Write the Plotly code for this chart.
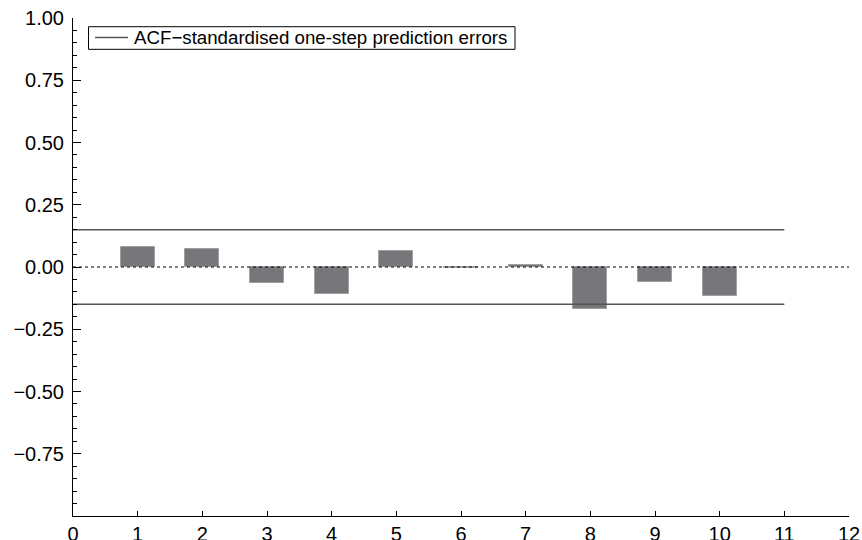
import plotly.graph_objects as go

lags = [1, 2, 3, 4, 5, 6, 7, 8, 9, 10]
acf_values = [0.081, 0.071, -0.063, -0.110, 0.063, -0.003, 0.007, -0.167, -0.061, -0.117]
bound = 0.15
bound_x = [0, 11]
zero_x = [0, 12]
legend_name = "ACF\u2212standardised one-step prediction errors"
ytick_vals = [-0.75, -0.50, -0.25, 0.00, 0.25, 0.50, 0.75, 1.00]
ytick_text = ["\u22120.75", "\u22120.50", "\u22120.25", "0.00", "0.25", "0.50", "0.75", "1.00"]
xtick_vals = list(range(0, 13))

fig = go.Figure()
fig.add_trace(go.Bar(
    x=lags, y=acf_values, width=0.53, showlegend=False,
    marker=dict(color="#77777b", line=dict(color="#a0a0a0", width=1)),
))
fig.add_trace(go.Scatter(
    x=zero_x, y=[0, 0], mode="lines", showlegend=False,
    line=dict(color="black", width=1, dash="dot"),
))
fig.add_trace(go.Scatter(
    x=bound_x + [None] + bound_x,
    y=[bound, bound, None, -bound, -bound],
    mode="lines", name=legend_name, showlegend=False,
    line=dict(color="#555555", width=1.5),
))

# manual legend box
fig.add_shape(type="rect", xref="paper", yref="paper",
              x0=0.020, x1=0.5696, y0=0.9371, y1=0.9825,
              line=dict(color="black", width=1), fillcolor="white", layer="above")
fig.add_shape(type="line", xref="paper", yref="paper",
              x0=0.0284, x1=0.0709, y0=0.9608, y1=0.9608,
              line=dict(color="#555555", width=1.5), layer="above")
fig.add_annotation(xref="paper", yref="paper", x=0.0760, y=0.9608,
                   xanchor="left", yanchor="middle", showarrow=False,
                   text=legend_name, font=dict(size=18.7, color="black"))

fig.update_layout(
    width=862, height=540,
    margin=dict(l=73, r=13, t=18, b=24),
    paper_bgcolor="white", plot_bgcolor="white",
    font=dict(family="Liberation Sans, Arial, sans-serif", size=20, color="black"),
    bargap=0,
    showlegend=False,
)
fig.update_xaxes(
    range=[0, 12], tickvals=xtick_vals, ticks="inside", ticklen=5, tickcolor="black",
    showline=True, linecolor="black", linewidth=1, showgrid=False,
    zeroline=False, automargin=False, ticklabelstandoff=0,
    ticklabeloverflow="allow",
)
fig.update_yaxes(
    range=[-1, 1], tickvals=ytick_vals, ticktext=ytick_text,
    ticks="inside", ticklen=8, tickcolor="black",
    showline=True, linecolor="black", linewidth=1, showgrid=False,
    zeroline=False, automargin=False, ticklabelstandoff=4,
    ticklabeloverflow="allow",
    minor=dict(dtick=0.05, tick0=0, ticks="inside", ticklen=4, tickcolor="black", showgrid=False),
)

fig.write_html(
    "out.html",
    config={"displayModeBar": False},
    post_script="document.body.style.margin='0';document.body.style.overflow='hidden';",
)
